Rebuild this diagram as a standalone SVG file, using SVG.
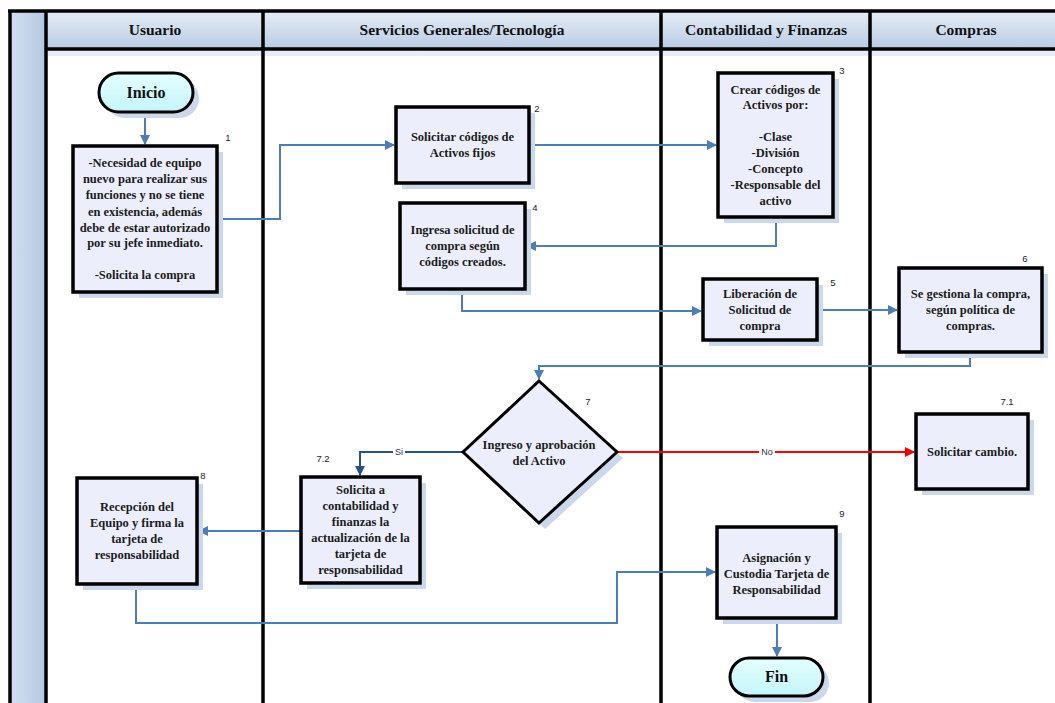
<svg xmlns="http://www.w3.org/2000/svg" width="1055" height="703" viewBox="0 0 1055 703">
<defs>
<linearGradient id="hdr" x1="0" y1="0" x2="0" y2="1">
<stop offset="0" stop-color="#e6edf7"/>
<stop offset="1" stop-color="#b9cbe3"/>
</linearGradient>
<linearGradient id="strip" x1="0" y1="0" x2="1" y2="0">
<stop offset="0" stop-color="#d3dfef"/>
<stop offset="1" stop-color="#b4c8e2"/>
</linearGradient>
<linearGradient id="term" x1="0" y1="0" x2="0" y2="1">
<stop offset="0" stop-color="#e4ffff"/>
<stop offset="1" stop-color="#c4f5fa"/>
</linearGradient>
<marker id="ab" viewBox="0 0 10 10" refX="9" refY="5" markerWidth="5" markerHeight="5" orient="auto" markerUnits="strokeWidth">
<path d="M0,0 L10,5 L0,10 z" fill="#4a7ebb"/>
</marker>
<marker id="an" viewBox="0 0 10 10" refX="9" refY="5" markerWidth="5" markerHeight="5" orient="auto" markerUnits="strokeWidth">
<path d="M0,0 L10,5 L0,10 z" fill="#24508e"/>
</marker>
<marker id="ar" viewBox="0 0 10 10" refX="9" refY="5" markerWidth="5" markerHeight="5" orient="auto" markerUnits="strokeWidth">
<path d="M0,0 L10,5 L0,10 z" fill="#ff0000"/>
</marker>
</defs>
<style>
.box{fill:#eceffb;stroke:#000;stroke-width:3.5}
.sh{fill:#cbd8ec}
.term{fill:url(#term);stroke:#000;stroke-width:3}
.t{font-family:"Liberation Serif",serif;font-weight:bold;font-size:12.5px;fill:#1c1c1c;text-anchor:middle}
.tt{font-family:"Liberation Serif",serif;font-weight:bold;font-size:16px;fill:#111;text-anchor:middle}
.h{font-family:"Liberation Serif",serif;font-weight:bold;font-size:15.5px;fill:#111;text-anchor:middle}
.n{font-family:"Liberation Sans",sans-serif;font-size:9.5px;fill:#222;text-anchor:middle}
.c{fill:none;stroke:#4a7ebb;stroke-width:2;marker-end:url(#ab)}
.lane{stroke:#000;stroke-width:3.5}
.lbl{font-family:"Liberation Sans",sans-serif;font-size:9px;fill:#333;text-anchor:middle}
</style>
<rect width="1055" height="703" fill="#fff"/>
<g id="pool">
<rect x="10" y="11" width="36" height="692" fill="url(#strip)"/>
<rect x="46" y="11" width="1009" height="38" fill="url(#hdr)"/>
<rect x="48" y="51" width="1007" height="5" fill="#e8eef7"/>
<line class="lane" x1="8" y1="11" x2="1055" y2="11"/>
<line class="lane" x1="46" y1="49" x2="1055" y2="49"/>
<line class="lane" x1="10" y1="11" x2="10" y2="703"/>
<line class="lane" x1="46" y1="11" x2="46" y2="703"/>
<line class="lane" x1="263" y1="11" x2="263" y2="703"/>
<line class="lane" x1="661" y1="11" x2="661" y2="703"/>
<line class="lane" x1="870" y1="11" x2="870" y2="703"/>
<text class="h" x="155" y="35">Usuario</text>
<text class="h" x="462" y="35">Servicios Generales/Tecnología</text>
<text class="h" x="766" y="35">Contabilidad y Finanzas</text>
<text class="h" x="966" y="35">Compras</text>
</g>
<g id="connectors">
<path class="c" d="M145,112 V144"/>
<path class="c" d="M217,219 H280 V145 H394"/>
<path class="c" d="M529,145 H716"/>
<path class="c" d="M776,217 V246 H527"/>
<path class="c" d="M462,289 V311 H701"/>
<path class="c" d="M817,310 H897"/>
<path class="c" d="M970,352 V366 H539 V379"/>
<path d="M463,452 H360 V475" fill="none" stroke="#24508e" stroke-width="2" marker-end="url(#an)"/>
<rect x="393" y="447" width="12" height="10" fill="#fff"/>
<text class="lbl" x="399" y="455">Si</text>
<path d="M617,452 H914" fill="none" stroke="#ff0000" stroke-width="2" marker-end="url(#ar)"/>
<rect x="759" y="447" width="16" height="10" fill="#fff"/>
<text class="lbl" x="767" y="455">No</text>
<path class="c" d="M301,531 H199"/>
<path class="c" d="M136,584 V623 H617 V572 H715"/>
<path class="c" d="M777,618 V656"/>
</g>
<g id="inicio">
<rect x="105" y="79" width="94" height="39" rx="19.5" class="sh"/>
<rect x="99" y="73" width="94" height="39" rx="19.5" class="term"/>
<text class="tt" x="146" y="98">Inicio</text>
</g>
<g id="n1">
<rect x="79" y="152" width="144" height="146" class="sh"/>
<rect x="73" y="146" width="144" height="146" class="box"/>
<text class="n" x="228" y="141">1</text>
<text class="t" x="145" y="167">-Necesidad de equipo</text>
<text class="t" x="145" y="183">nuevo para realizar sus</text>
<text class="t" x="145" y="199">funciones y no se tiene</text>
<text class="t" x="145" y="216">en existencia, además</text>
<text class="t" x="145" y="232">debe de estar autorizado</text>
<text class="t" x="145" y="247">por su jefe inmediato.</text>
<text class="t" x="145" y="279">-Solicita la compra</text>
</g>
<g id="n2">
<rect x="402" y="113" width="133" height="76" class="sh"/>
<rect x="396" y="107" width="133" height="76" class="box"/>
<text class="n" x="537" y="112">2</text>
<text class="t" x="462.5" y="141">Solicitar códigos de</text>
<text class="t" x="462.5" y="157">Activos fijos</text>
</g>
<g id="n3">
<rect x="724" y="79" width="115" height="144" class="sh"/>
<rect x="718" y="73" width="115" height="144" class="box"/>
<text class="n" x="842" y="74">3</text>
<text class="t" x="775.5" y="94">Crear códigos de</text>
<text class="t" x="775.5" y="109">Activos por:</text>
<text class="t" x="775.5" y="141">-Clase</text>
<text class="t" x="775.5" y="157">-División</text>
<text class="t" x="775.5" y="173">-Concepto</text>
<text class="t" x="775.5" y="189">-Responsable del</text>
<text class="t" x="775.5" y="205">activo</text>
</g>
<g id="n4">
<rect x="406" y="209" width="125" height="86" class="sh"/>
<rect x="400" y="203" width="125" height="86" class="box"/>
<text class="n" x="535" y="211">4</text>
<text class="t" x="462.5" y="234">Ingresa solicitud de</text>
<text class="t" x="462.5" y="250">compra según</text>
<text class="t" x="462.5" y="266">códigos creados.</text>
</g>
<g id="n5">
<rect x="709" y="285" width="114" height="61" class="sh"/>
<rect x="703" y="279" width="114" height="61" class="box"/>
<text class="n" x="833" y="286">5</text>
<text class="t" x="760" y="298">Liberación de</text>
<text class="t" x="760" y="314">Solicitud de</text>
<text class="t" x="760" y="330">compra</text>
</g>
<g id="n6">
<rect x="905" y="274" width="143" height="84" class="sh"/>
<rect x="899" y="268" width="143" height="84" class="box"/>
<text class="n" x="1025" y="262">6</text>
<text class="t" x="970.5" y="298">Se gestiona la compra,</text>
<text class="t" x="970.5" y="314">según política de</text>
<text class="t" x="970.5" y="330">compras.</text>
</g>
<g id="n7">
<polygon points="545,387 623,458 545,529 469,458" fill="#cbd8ec"/>
<polygon points="539,381 617,452 539,523 463,452" fill="#eceffb" stroke="#000" stroke-width="3"/>
<text class="n" x="588" y="405">7</text>
<text class="t" x="539" y="449">Ingreso y aprobación</text>
<text class="t" x="539" y="465">del Activo</text>
</g>
<g id="n71">
<rect x="922" y="420" width="112" height="75" class="sh"/>
<rect x="916" y="414" width="112" height="75" class="box"/>
<text class="n" x="1007" y="405">7.1</text>
<text class="t" x="972" y="456">Solicitar cambio.</text>
</g>
<g id="n72">
<rect x="307" y="483" width="119" height="106" class="sh"/>
<rect x="301" y="477" width="119" height="106" class="box"/>
<text class="n" x="323" y="462">7.2</text>
<text class="t" x="360.5" y="494">Solicita a</text>
<text class="t" x="360.5" y="510">contabilidad y</text>
<text class="t" x="360.5" y="526">finanzas la</text>
<text class="t" x="360.5" y="542">actualización de la</text>
<text class="t" x="360.5" y="558">tarjeta de</text>
<text class="t" x="360.5" y="574">responsabilidad</text>
</g>
<g id="n8">
<rect x="83" y="484" width="120" height="106" class="sh"/>
<rect x="77" y="478" width="120" height="106" class="box"/>
<text class="n" x="203" y="479">8</text>
<text class="t" x="137" y="511">Recepción del</text>
<text class="t" x="137" y="527">Equipo y firma la</text>
<text class="t" x="137" y="543">tarjeta de</text>
<text class="t" x="137" y="559">responsabilidad</text>
</g>
<g id="n9">
<rect x="723" y="533" width="119" height="91" class="sh"/>
<rect x="717" y="527" width="119" height="91" class="box"/>
<text class="n" x="842" y="517">9</text>
<text class="t" x="776.5" y="562">Asignación y</text>
<text class="t" x="776.5" y="578">Custodia Tarjeta de</text>
<text class="t" x="776.5" y="594">Responsabilidad</text>
</g>
<g id="fin">
<rect x="736" y="664" width="93" height="38" rx="19" class="sh"/>
<rect x="730" y="658" width="93" height="38" rx="19" class="term"/>
<text class="tt" x="776.5" y="682">Fin</text>
</g>
</svg>
